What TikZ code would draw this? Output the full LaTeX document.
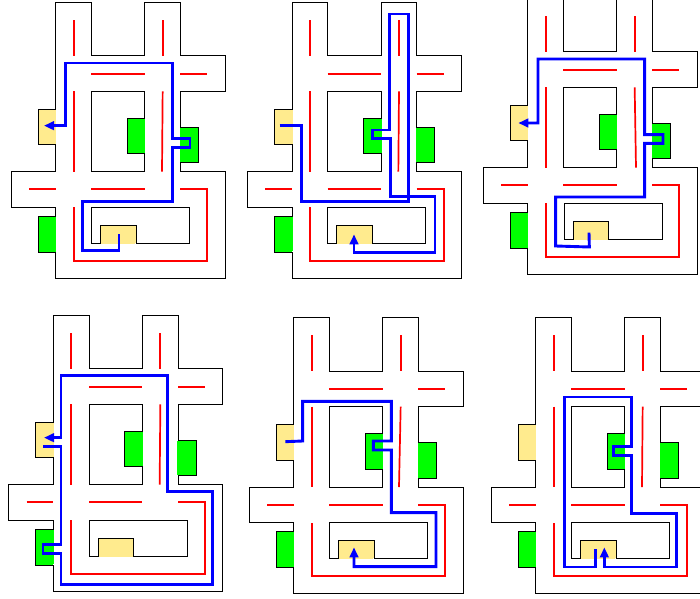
\documentclass[tikz,border=0pt]{standalone}
\usetikzlibrary{arrows.meta}
\definecolor{dooryellow}{HTML}{FFEB8E}
\definecolor{doorgreen}{HTML}{00FF00}
\tikzset{
  wall/.style={draw=black,line width=1pt,line join=miter},
  yellowdoor/.style={fill=dooryellow,draw=none},
  greendoor/.style={fill=doorgreen,draw=none},
  redline/.style={draw=red,line width=1.7pt,line join=miter},
  route/.style={draw=blue,line width=2.9pt,line join=miter,-{Triangle[length=10pt,width=8.5pt]}},
}
% #1,#2 crop origin in px; #3,#4 plan shift in third-px; #5 lower box dx; #6 red lower end dx; #7 route
\newcommand{\mazepanel}[7]{%
\begin{scope}[xshift=#1pt,yshift=-#2pt,x=0.33333pt,y=-0.33333pt]
\begin{scope}[shift={(#3,#4)}]
  % door fills
  \fill[yellowdoor] (114,327) rectangle (167,434);
  \fill[greendoor] (114,649) rectangle (167,756);
  \fill[greendoor] (541,381) rectangle (595,488);
  \fill[greendoor] (381,354) rectangle (434,461);
  \fill[yellowdoor] (301+#5,676) rectangle (408+#5,729);
  % outer wall
  \draw[wall] (167,327) -- (167,7) -- (274,7) -- (274,167) -- (434,167) -- (434,7) -- (541,7) -- (541,167) -- (675,167) -- (675,274) -- (541,274) -- (541,381) -- (595,381) -- (595,488) -- (541,488) -- (541,515) -- (675,515) -- (675,835) -- (167,835) -- (167,756) -- (114,756) -- (114,649) -- (167,649) -- (167,622) -- (33,622) -- (33,515) -- (167,515) -- (167,434) -- (114,434) -- (114,327) -- cycle;
  % middle block
  \draw[wall] (434,354) -- (434,274) -- (274,274) -- (274,515) -- (434,515) -- (434,461) -- (381,461) -- (381,354) -- cycle;
  % lower block
  \draw[wall] (301+#5,729) -- (274+#5,729) -- (274+#5,622) -- (568+#5,622) -- (568+#5,729) -- (408+#5,729) -- (408+#5,676) -- (301+#5,676) -- cycle;
  % cover only the open side of each door
  \fill[yellowdoor] (165,329) rectangle (169,432);
  \fill[greendoor] (165,651) rectangle (169,754);
  \fill[greendoor] (539,383) rectangle (543,486);
  \fill[greendoor] (432,356) rectangle (436,459);
  \fill[yellowdoor] (303+#5,727) rectangle (406+#5,731);
  % red guide lines
  \draw[redline] (221,60) -- (221,167);
  \draw[redline] (221,274) -- (221,515);
  \draw[redline] (488,60) -- (488,167);
  \draw[redline] (488,274) -- (486+#6,515);
  \draw[redline] (274,221) -- (434,221);
  \draw[redline] (541,221) -- (622,221);
  \draw[redline] (87,568) -- (167,568);
  \draw[redline] (274,568) -- (434,568);
  \draw[redline] (541,568) -- (622,568) -- (622,782) -- (221,782) -- (221,622);
\end{scope}
  \draw[route] #7;
\end{scope}}
\begin{document}
\begin{tikzpicture}[x=1pt,y=1pt]
\clip (0,0) rectangle (700,-598);
\mazepanel{0}{0}{0}{0}{0}{0}{(357,703) -- (357,752) -- (248,752) -- (248,604) -- (517,604) -- (517,443) -- (570,443) -- (570,416) -- (517,416) -- (517,189) -- (197,189) -- (197,377) -- (132,377)}
\mazepanel{235}{0}{4}{0}{0}{0}{(134,377) -- (200,377) -- (200,604) -- (520,604) -- (520,42) -- (464,42) -- (464,390) -- (413,390) -- (413,416) -- (466,416) -- (466,590) -- (600,590) -- (600,757) -- (357,757) -- (357,703)}
\mazepanel{470}{0}{6}{-12}{2}{6}{(357,698) -- (358,741) -- (257,738) -- (257,591) -- (524,591) -- (524,430) -- (579,430) -- (579,404) -- (524,404) -- (524,177) -- (204,177) -- (204,369) -- (145,369)}
\mazepanel{0}{305}{-7}{24}{0}{0}{(130,425) -- (183,425) -- (183,719) -- (129,719) -- (129,745) -- (183,745) -- (183,839) -- (637,839) -- (637,559) -- (503,559) -- (503,211) -- (183,211) -- (183,398) -- (132,398)}
\mazepanel{235}{305}{9}{31}{0}{-3}{(151,410) -- (203,408) -- (203,289) -- (469,289) -- (469,408) -- (415,408) -- (415,435) -- (469,435) -- (469,623) -- (603,623) -- (603,785) -- (357,785) -- (357,727)}
\mazepanel{470}{305}{30}{31}{0}{0}{(377,733) -- (377,786) -- (284,786) -- (284,276) -- (485,276) -- (485,425) -- (430,425) -- (430,452) -- (485,452) -- (485,626) -- (619,626) -- (619,786) -- (403,786) -- (403,727)}
\end{tikzpicture}
\end{document}
